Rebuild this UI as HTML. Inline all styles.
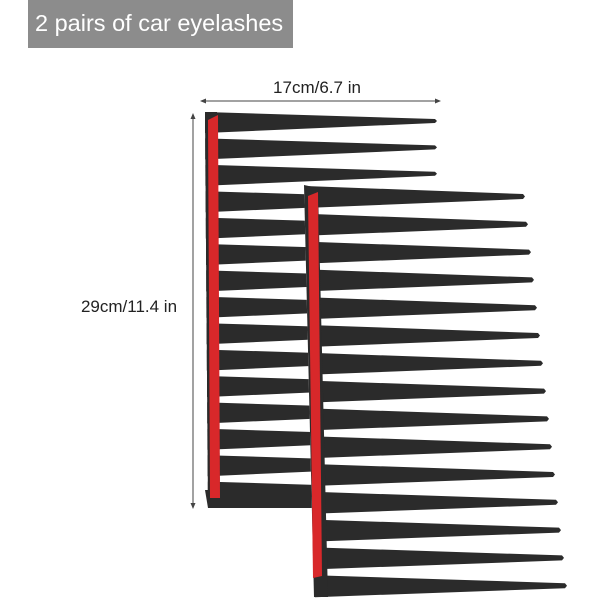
<!DOCTYPE html>
<html><head><style>
body{margin:0;background:#fff;width:600px;height:600px;overflow:hidden;font-family:"Liberation Sans",sans-serif}
</style></head><body>
<svg id="s" width="600" height="600" xmlns="http://www.w3.org/2000/svg">
<rect width="600" height="600" fill="#fff"/>
<rect x="28" y="0" width="265" height="48" fill="#8c8c8c"/>
<text x="35" y="31" font-family="Liberation Sans, sans-serif" font-size="23.5" fill="#fff">2 pairs of car eyelashes</text>
<line x1="201" y1="101" x2="440" y2="101" stroke="#444" stroke-width="1"/>
<polygon points="200,101 206,98.5 206,103.5" fill="#444"/>
<polygon points="441,101 435,98.5 435,103.5" fill="#444"/>
<text x="317" y="93" text-anchor="middle" font-size="17" fill="#222" font-family="Liberation Sans, sans-serif">17cm/6.7 in</text>
<line x1="193" y1="114" x2="193" y2="508" stroke="#444" stroke-width="1"/>
<polygon points="193,113 190.5,119 195.5,119" fill="#444"/>
<polygon points="193,509 190.5,503 195.5,503" fill="#444"/>
<text x="129" y="312" text-anchor="middle" font-size="17" fill="#222" font-family="Liberation Sans, sans-serif">29cm/11.4 in</text>
<g id="g"></g>
</svg>
<script>
var g=document.getElementById('g'),h='';
for(var i=0;i<15;i++){var y=112+26.4*i,lx=205+0.2*i,t=435;
h+='<polygon points="'+lx+','+y+' '+t+','+(y+7)+' '+(t+2)+','+(y+9)+' '+t+','+(y+11)+' '+lx+','+(y+21)+'" fill="#2b2b2b"/>';}
h+='<polygon points="205,112 217,112 220,508 208,508" fill="#2b2b2b"/>';
h+='<polygon points="205,490 320,490 320,508 208,508" fill="#2b2b2b"/>';
h+='<polygon points="208,120 218,115 220,498 210,498" fill="#d8282a"/>';
h+='<polygon points="304,185 600,185 600,600 314,600" fill="#fff"/>';
for(var i=0;i<15;i++){var y=186+27.8*i,lx=305+0.7*i,t=523+3*i;
h+='<polygon points="'+lx+','+y+' '+t+','+(y+8)+' '+(t+2)+','+(y+10.5)+' '+t+','+(y+13)+' '+lx+','+(y+22)+'" fill="#2b2b2b"/>';}
h+='<polygon points="304,185 318,188 328,597 314,597" fill="#2b2b2b"/>';
h+='<polygon points="308,196 318,192 322,576 313,578" fill="#d8282a"/>';
g.innerHTML=h;
</script>
</body></html>
